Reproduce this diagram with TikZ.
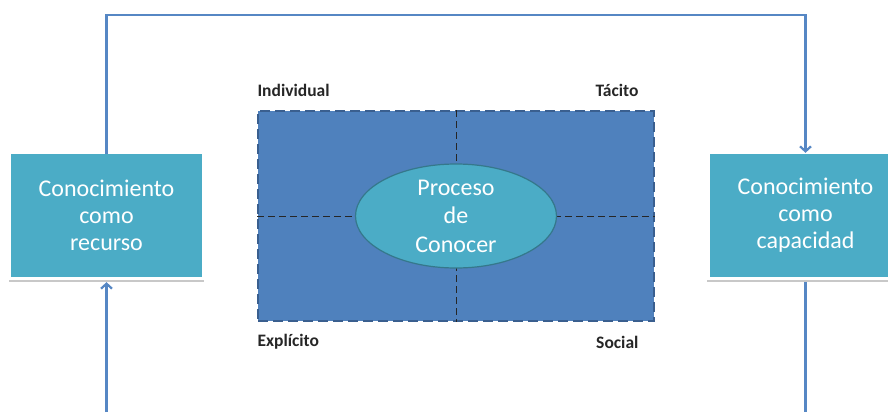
\documentclass[tikz,border=0pt]{standalone}
\usepackage{fontspec}
\setmainfont{Carlito}
\usetikzlibrary{arrows.meta,shapes.geometric}
\definecolor{caja}{HTML}{4BACC6}
\definecolor{matriz}{HTML}{4F81BD}
\definecolor{borde}{HTML}{3A5F8F}
\definecolor{flecha}{HTML}{5687C4}
\definecolor{gris}{HTML}{C8C8C8}
\tikzset{
	conc/.style={rectangle,fill=caja,minimum width=191,minimum height=123,text=white,align=center,font=\fontsize{24}{27}\selectfont},
	flow/.style={draw=flecha,line width=2.2pt},
	lab/.style={font=\bfseries\fontsize{17.5}{20}\selectfont,text=black!85},
}
\begin{document}
\begin{tikzpicture}[x=1pt,y=-1pt]
	\useasboundingbox (0,0) rectangle (888,412);
	% cajas laterales
	\node[conc] (rec) at (106.5,215.5) {Conocimiento\\como\\recurso};
	\node[conc] (cap) at (805.5,215.5) {Conocimiento\\como\\capacidad};
	\draw[gris,line width=2pt] (9,281) -- (204,281);
	\draw[gris,line width=2pt] (707,281) -- (900,281);
	% matriz central
	\node[rectangle,fill=matriz,draw=borde,line width=2pt,dash pattern=on 10pt off 5pt,minimum width=396,minimum height=210] (mat) at (456,216) {};
	\draw[black!85,line width=1pt,dash pattern=on 7pt off 4pt] (mat.north) -- (mat.south);
	\draw[black!85,line width=1pt,dash pattern=on 7pt off 4pt] (mat.west) -- (mat.east);
	\node[ellipse,fill=caja,draw=caja!70!black,line width=1.2pt,minimum width=201,minimum height=104,inner sep=0pt,text=white,align=center,font=\fontsize{24}{28.5}\selectfont] (pro) at (456,216) {Proceso\\de\\Conocer};
	\node[lab,anchor=west] (ind) at ([xshift=-3,yshift=20]mat.north west) {Individual};
	\node[lab,anchor=east] (tac) at ([xshift=-13,yshift=20]mat.north east) {Tácito};
	\node[lab,anchor=west] (exp) at ([xshift=-3,yshift=-20]mat.south west) {Explícito};
	\node[lab,anchor=east] (soc) at ([xshift=-13,yshift=-20]mat.south east) {Social};
	% conectores
	\coordinate (top) at (456,15);
	\coordinate (bl) at (106.5,412);
	\coordinate (br) at (805.5,412);
	\draw[flow,-{Straight Barb[length=5pt,width=11pt]}] (rec.north) |- (top) -| ([yshift=1]cap.north);
	\draw[flow,-{Straight Barb[length=5pt,width=11pt]}] (bl) -- ([yshift=-5]rec.south);
	\draw[flow] ([yshift=-5]cap.south) -- (br);
\end{tikzpicture}
\end{document}
